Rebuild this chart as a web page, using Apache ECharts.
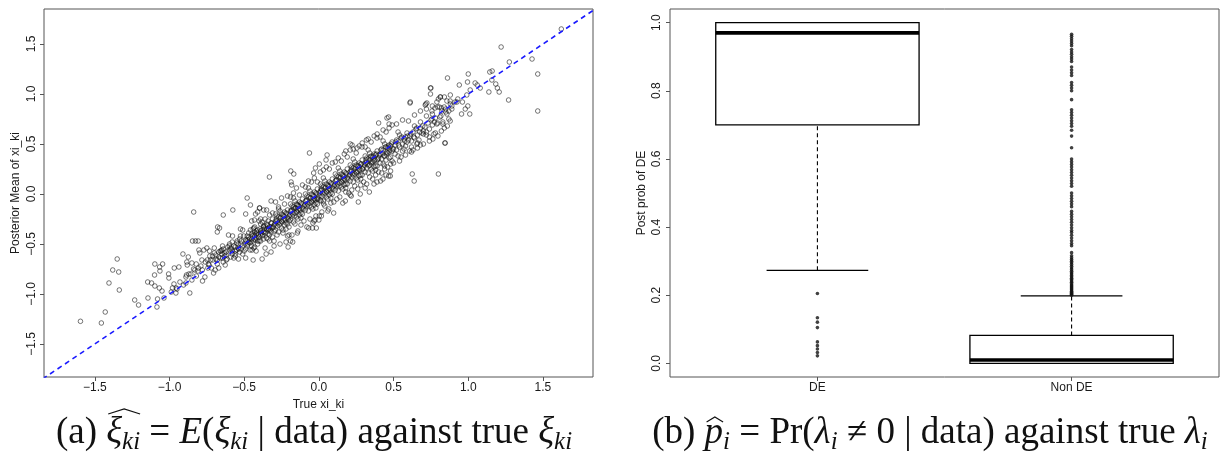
<!DOCTYPE html>
<html><head><meta charset="utf-8">
<script src="https://cdn.jsdelivr.net/npm/echarts@6/dist/echarts.min.js"></script>
<style>html,body{margin:0;padding:0;background:#fff}#c{width:1223px;height:460px}</style>
</head><body><div id="c"></div>
<script>
// ---------- data ----------
const xiTicks = [-1.5, -1, -0.5, 0, 0.5, 1, 1.5];
const probTicks = [0, 0.2, 0.4, 0.6, 0.8, 1.0];
const groups = ['DE', 'Non DE'];
// [lower whisker, Q1, median, Q3, upper whisker]
const boxStats = [
  [0.273, 0.700, 0.970, 1.000, 1.000],
  [0.000, 0.000, 0.010, 0.082, 0.198]
];
const deOutliers = [0.205, 0.134, 0.121, 0.105, 0.063, 0.052, 0.042, 0.032, 0.022];
const nonDeOutliers = [
  0.200,0.203,0.206,0.209,0.212,0.215,0.218,0.221,0.224,0.227,0.230,0.234,0.238,0.242,0.246,0.250,
  0.254,0.258,0.262,0.266,0.270,0.275,0.280,0.285,0.290,0.295,0.300,0.305,0.310,0.316,0.325,
  0.345,0.352,0.360,0.368,0.376,0.384,0.390,0.398,0.406,0.414,0.422,0.430,0.438,0.446,
  0.460,0.468,0.476,0.484,0.492,0.500,0.520,0.528,0.536,0.544,0.552,0.560,0.568,0.576,0.584,0.592,0.600,
  0.633,0.667,0.684,0.696,0.704,0.712,0.720,0.728,0.736,0.744,0.774,0.800,0.808,0.816,0.824,
  0.845,0.853,0.861,0.870,0.886,0.893,0.900,0.907,0.914,0.921,0.932,0.939,0.946,0.953,0.960,0.966
];
// [true xi_ki, posterior mean of xi_ki]
const xiPoints = [
[-1.596,-1.273],[-1.456,-1.29],[-1.43,-1.18],[-1.35,-0.65],[-1.38,-0.76],[-1.34,-0.78],[-1.405,-0.89],[-1.336,-0.96],
[-1.233,-1.06],[-1.207,-1.11],[-1.144,-1.04],[-1.084,-1.13],[-1.098,-0.70],[-1.066,-0.73],[-1.046,-0.70],[-1.064,-0.77],
[-1.10,-0.81],[-1.146,-0.88],[-1.12,-0.89],[-1.098,-0.92],[-1.068,-0.94],[-1.05,-0.97],[-1.08,-1.05],[-1.037,-1.04],
[-1.006,-0.80],[-1.004,-0.84],[-0.968,-0.74],[-0.937,-0.73],[-0.98,-0.94],[-0.955,-0.94],[-0.988,-0.98],[-0.957,-0.99],
[-0.906,-0.91],[-0.89,-0.89],[-0.864,-0.99],[-0.91,-0.60],[-0.874,-0.63],[-0.884,-0.68],[-0.881,-0.71],[-0.886,-0.81],
[-0.857,-0.80],[-0.85,-0.69],[-0.821,-0.70],[-0.839,-0.75],[-0.806,-0.74],[-0.81,-0.77],[-0.838,-0.18],[-0.846,-0.47],
[-0.826,-0.47],[-0.808,-0.47],[-0.803,-0.56],[-0.797,-0.59],[-0.77,-0.56],[-0.783,-0.66],[-0.79,-0.72],[-0.779,-0.87],
[-0.763,-0.83],[-0.747,-0.66],[-0.743,-0.74],[-0.734,-0.71],[-0.725,-0.66],[-0.75,-0.54],[-0.732,-0.57],[-0.70,-0.54],
[-0.70,-0.59],[-0.712,-0.62],[-0.69,-0.65],[-0.705,-0.79],[-0.694,-0.76],[-0.67,-0.74],[-0.64,-0.21],[-0.68,-0.38],
[-0.678,-0.33],[-0.665,-0.34],[-0.645,-0.52],[-0.654,-0.57],[-0.632,-0.59],[-0.645,-0.64],[-0.627,-0.71],[-0.614,-0.65],
[-0.605,-0.41],[-0.598,-0.50],[-0.576,-0.16],[-0.578,-0.42],[-0.60,-0.56],[-0.587,-0.54],[-0.56,-0.60],[-0.57,-0.64],
[-0.547,-0.47],[-0.525,-0.35],[-0.51,-0.36],[-0.525,-0.42],[-0.52,-0.50],[-0.536,-0.55],[-0.538,-0.65],[-0.503,-0.42],
[-0.49,-0.20],[-0.48,-0.04],[-0.458,-0.11],[-0.49,-0.64],[-0.50,-0.57],[-0.476,-0.50],[-0.447,-0.56],[-0.458,-0.36],
[-0.436,-0.34],[-0.418,-0.37],[-0.43,-0.42],[-0.41,-0.47],[-0.40,-0.27],[-0.396,-0.14],[-0.424,-0.20],
[-0.331,0.17],[-0.063,0.41],[-0.188,0.23],[-0.168,0.20],[-0.186,0.12],[-0.182,0.09],[-0.398,-0.14],[-0.369,-0.16],
[-0.32,-0.07],[-0.431,-0.26],[-0.068,-0.34],[-0.043,-0.34],[-0.017,-0.34],[-0.032,-0.27],[0.017,-0.22],[-0.144,-0.39],
[-0.175,-0.48],[-0.20,-0.41],[-0.30,-0.52],[-0.353,-0.60],[-0.436,-0.54],[0.264,-0.08],[0.338,0.02],[0.31,0.06],
[0.389,0.12],[0.429,0.15],[0.467,0.18],[0.625,0.20],[0.638,0.13],[0.80,0.20],[0.846,0.51],[0.747,1.00],
[0.814,0.97],[0.61,0.91],[0.40,0.71],[0.467,0.77],[0.21,0.50],[0.055,0.39],[0.18,0.43],[-0.012,-0.05],[0.015,-0.07],
[-0.206,-0.53],[-0.19,-0.47],[-0.21,-0.42],[0.48,0.23],[0.45,0.19],[0.413,0.13],[0.369,0.10],[0.277,0.00],
[0.217,-0.02],[0.177,-0.07],[0.099,-0.19],[0.066,-0.15],[0.032,-0.10],[0.003,-0.22],[-0.026,-0.26],[0.048,0.34],
[0.003,0.30],[-0.023,0.26],[-0.035,0.21],[0.222,0.49],[0.255,0.46],[0.289,0.47],[0.318,0.54],[0.389,0.56],
[0.456,0.76],[0.47,0.70],[0.656,0.50],[0.607,0.43],[0.716,0.90],[0.75,1.06],[0.612,0.92],
[-0.146,-0.11],[-0.168,-0.15],[0.21,-0.01],[0.478,0.18],
[1.623,1.65],[1.22,1.47],[1.427,1.35],[1.275,1.32],[1.465,1.20],[1.465,0.83],[1.27,0.94],[1.144,1.22],
[1.16,1.23],[1.158,1.14],[1.184,1.10],[1.195,1.06],[1.207,1.02],[1.138,1.02],[1.046,1.11],[1.06,1.09],
[1.08,1.06],[1.00,1.20],[0.995,1.12],[0.94,1.09],[1.013,1.04],[0.99,0.99],[0.861,1.16],[0.747,1.06],
[0.812,0.97],[0.857,0.93],[0.879,0.93],[0.912,0.92],[0.924,0.92],[0.961,0.92],[0.997,0.88],[0.955,0.80],
[1.01,0.80],[0.89,0.88],[0.723,0.91],[0.712,0.89],[0.79,0.92],[0.795,0.87],[0.777,0.86],[0.807,0.87],
[0.839,0.87],[0.757,0.83],[0.823,0.83],[0.857,0.80],[0.817,0.78],[0.879,0.73],[0.83,0.70],[0.794,0.71],
[0.774,0.72],[0.757,0.75],[0.797,0.58],[0.763,0.55],[0.843,0.51],[0.68,0.49],[0.70,0.60],[0.72,0.59],
[0.93,0.95],[0.98,0.85],[0.87,0.83],[0.85,0.85],[0.88,0.90],[0.82,0.86],
[-0.97,-0.90],[-0.93,-0.88],[-0.95,-0.95],[-0.89,-0.83],[-0.87,-0.80],[-0.85,-0.86],[-0.83,-0.76],[-0.82,-0.82],
[-0.78,-0.76],[-0.74,-0.70],[-0.72,-0.74],[-0.76,-0.68],[-0.71,-0.66],[-0.73,-0.62],
[-0.69,-0.61],[-0.68,-0.66],[-0.67,-0.58],[-0.66,-0.64],[-0.65,-0.60],[-0.64,-0.55],[-0.63,-0.62],[-0.62,-0.58],
[-0.61,-0.53],[-0.68,-0.70],[-0.66,-0.57],[-0.62,-0.66],[-0.64,-0.68],
[-0.59,-0.55],[-0.58,-0.60],[-0.57,-0.52],[-0.56,-0.57],[-0.55,-0.49],[-0.54,-0.54],[-0.53,-0.58],[-0.52,-0.47],
[-0.51,-0.52],[-0.58,-0.48],[-0.56,-0.62],[-0.53,-0.45],[-0.51,-0.60],[-0.59,-0.63],[-0.55,-0.56],
[-0.49,-0.46],[-0.48,-0.52],[-0.47,-0.43],[-0.46,-0.49],[-0.45,-0.40],[-0.44,-0.47],[-0.43,-0.38],[-0.42,-0.44],
[-0.41,-0.50],[-0.49,-0.55],[-0.47,-0.39],[-0.46,-0.56],[-0.45,-0.52],[-0.44,-0.35],[-0.43,-0.45],[-0.42,-0.40],
[-0.41,-0.36],[-0.48,-0.42],[-0.40,-0.43],[-0.43,-0.53],[-0.47,-0.48],[-0.45,-0.45],
[-0.39,-0.37],[-0.38,-0.42],[-0.37,-0.33],[-0.36,-0.39],[-0.35,-0.30],[-0.34,-0.36],[-0.33,-0.41],[-0.32,-0.29],
[-0.31,-0.34],[-0.39,-0.47],[-0.38,-0.28],[-0.37,-0.45],[-0.36,-0.32],[-0.35,-0.44],[-0.34,-0.27],[-0.33,-0.33],
[-0.32,-0.38],[-0.31,-0.25],[-0.30,-0.31],[-0.39,-0.30],[-0.37,-0.38],[-0.35,-0.35],[-0.33,-0.47],[-0.31,-0.43],
[-0.36,-0.25],[-0.34,-0.40],[-0.32,-0.33],[-0.38,-0.36],[-0.30,-0.37],[-0.39,-0.41],
[-0.29,-0.27],[-0.28,-0.32],[-0.27,-0.23],[-0.26,-0.29],[-0.25,-0.20],[-0.24,-0.26],[-0.23,-0.31],[-0.22,-0.19],
[-0.21,-0.24],[-0.29,-0.36],[-0.28,-0.22],[-0.27,-0.38],[-0.26,-0.17],[-0.25,-0.34],[-0.24,-0.21],[-0.23,-0.25],
[-0.22,-0.29],[-0.21,-0.16],[-0.20,-0.22],[-0.28,-0.27],[-0.26,-0.24],[-0.24,-0.36],[-0.22,-0.35],[-0.27,-0.13],
[-0.25,-0.27],[-0.23,-0.18],[-0.21,-0.30],[-0.29,-0.20],[-0.20,-0.27],
[-0.19,-0.17],[-0.18,-0.22],[-0.17,-0.13],[-0.16,-0.19],[-0.15,-0.10],[-0.14,-0.16],[-0.13,-0.21],[-0.12,-0.09],
[-0.11,-0.14],[-0.19,-0.26],[-0.18,-0.12],[-0.17,-0.28],[-0.16,-0.07],[-0.15,-0.23],[-0.14,-0.11],[-0.13,-0.15],
[-0.12,-0.19],[-0.11,-0.05],[-0.10,-0.12],[-0.18,-0.16],[-0.16,-0.14],[-0.14,-0.25],[-0.12,-0.24],[-0.17,-0.04],
[-0.15,-0.17],[-0.13,-0.08],[-0.11,-0.20],[-0.19,-0.10],
[-0.09,-0.07],[-0.08,-0.12],[-0.07,-0.03],[-0.06,-0.09],[-0.05,0.00],[-0.04,-0.06],[-0.03,-0.11],[-0.02,0.01],
[-0.01,-0.04],[-0.09,-0.16],[-0.08,-0.02],[-0.07,-0.17],[-0.06,0.03],[-0.05,-0.13],[-0.04,-0.01],[-0.03,-0.05],
[-0.02,-0.09],[-0.01,0.05],[0.00,-0.02],[-0.08,-0.06],[-0.06,-0.04],[-0.04,-0.15],[-0.02,-0.14],[-0.07,0.06],
[-0.05,-0.07],[-0.03,0.02],[-0.01,-0.10],[-0.09,0.00],
[0.01,0.03],[0.02,-0.02],[0.03,0.07],[0.04,0.01],[0.05,0.10],[0.06,0.04],[0.07,-0.01],[0.08,0.11],
[0.09,0.06],[0.01,-0.06],[0.02,0.08],[0.03,-0.07],[0.04,0.13],[0.05,-0.03],[0.06,0.09],[0.07,0.05],
[0.08,0.01],[0.09,0.15],[0.10,0.08],[0.02,0.04],[0.04,0.06],[0.06,-0.05],[0.08,-0.04],[0.03,0.16],
[0.05,0.03],[0.07,0.12],[0.09,0.00],[0.01,0.10],
[0.11,0.13],[0.12,0.08],[0.13,0.17],[0.14,0.11],[0.15,0.20],[0.16,0.14],[0.17,0.09],[0.18,0.21],
[0.19,0.16],[0.11,0.04],[0.12,0.18],[0.13,0.03],[0.14,0.23],[0.15,0.07],[0.16,0.19],[0.17,0.15],
[0.18,0.10],[0.19,0.25],[0.20,0.18],[0.12,0.14],[0.14,0.16],[0.16,0.05],[0.18,0.06],[0.13,0.26],
[0.15,0.13],[0.17,0.22],[0.19,0.10],[0.11,0.20],
[0.21,0.22],[0.22,0.17],[0.23,0.26],[0.24,0.20],[0.25,0.29],[0.26,0.23],[0.27,0.18],[0.28,0.30],
[0.29,0.25],[0.21,0.13],[0.22,0.27],[0.23,0.12],[0.24,0.32],[0.25,0.16],[0.26,0.28],[0.27,0.24],
[0.28,0.19],[0.29,0.34],[0.30,0.27],[0.22,0.23],[0.24,0.25],[0.26,0.14],[0.28,0.15],[0.23,0.35],
[0.25,0.22],[0.27,0.31],[0.29,0.19],[0.21,0.29],
[0.31,0.31],[0.32,0.26],[0.33,0.35],[0.34,0.29],[0.35,0.38],[0.36,0.32],[0.37,0.27],[0.38,0.39],
[0.39,0.34],[0.31,0.22],[0.32,0.36],[0.33,0.21],[0.34,0.41],[0.35,0.25],[0.36,0.37],[0.37,0.33],
[0.38,0.28],[0.39,0.43],[0.40,0.36],[0.32,0.32],[0.34,0.34],[0.36,0.23],[0.38,0.24],[0.33,0.44],
[0.35,0.31],[0.37,0.40],[0.39,0.28],[0.31,0.38],
[0.41,0.40],[0.42,0.35],[0.43,0.44],[0.44,0.38],[0.45,0.47],[0.46,0.41],[0.47,0.36],[0.48,0.48],
[0.49,0.43],[0.41,0.31],[0.42,0.45],[0.43,0.30],[0.44,0.50],[0.45,0.34],[0.46,0.46],[0.47,0.42],
[0.48,0.37],[0.49,0.52],[0.50,0.45],[0.43,0.53],[0.45,0.40],[0.47,0.49],[0.49,0.33],[0.44,0.28],
[0.51,0.49],[0.52,0.44],[0.53,0.53],[0.54,0.47],[0.55,0.56],[0.56,0.50],[0.57,0.45],[0.58,0.57],
[0.59,0.52],[0.51,0.40],[0.52,0.54],[0.53,0.38],[0.54,0.59],[0.56,0.43],[0.57,0.55],[0.58,0.48],
[0.59,0.61],[0.60,0.54],[0.55,0.37],[0.53,0.62],
[0.61,0.58],[0.62,0.53],[0.63,0.62],[0.64,0.56],[0.65,0.65],[0.66,0.59],[0.67,0.54],[0.68,0.66],
[0.69,0.61],[0.62,0.47],[0.64,0.68],[0.66,0.51],[0.68,0.72],[0.70,0.63],[0.63,0.44],
[0.71,0.67],[0.72,0.62],[0.73,0.71],[0.74,0.65],[0.75,0.74],[0.76,0.69],[0.77,0.60],[0.78,0.76],
[0.79,0.70],[0.72,0.78],[0.74,0.57],[0.76,0.80],
[0.81,0.77],[0.83,0.72],[0.85,0.82],[0.87,0.75],[0.89,0.85],[0.84,0.66],
[-0.45,-0.27],[-0.44,-0.66],[-0.43,-0.33],[-0.42,-0.57],[-0.41,-0.18],[-0.40,-0.47],[-0.39,-0.25],[-0.38,-0.65],
[-0.37,-0.32],[-0.36,-0.54],[-0.35,-0.16],[-0.34,-0.45],[-0.33,-0.21],[-0.32,-0.58],[-0.31,-0.19],[-0.30,-0.47],
[-0.29,-0.08],[-0.28,-0.41],[-0.27,-0.15],[-0.26,-0.50],[-0.25,-0.04],[-0.24,-0.39],[-0.23,-0.10],[-0.22,-0.48],
[-0.21,-0.02],[-0.20,-0.33],[-0.19,-0.03],[-0.18,-0.41],[-0.17,0.01],[-0.16,-0.30],[-0.15,0.06],[-0.14,-0.37],
[-0.13,-0.01],[-0.12,-0.31],[-0.11,0.09],[-0.10,-0.27],[-0.09,0.07],[-0.08,-0.33],[-0.07,0.13],[-0.06,-0.25],
[-0.05,0.12],[-0.04,-0.29],[-0.03,0.16],[-0.02,-0.22],[-0.01,0.12],[0.00,-0.26],[0.01,0.22],[0.02,-0.18],
[0.03,0.24],[0.04,-0.12],[0.05,0.27],[0.06,-0.17],[0.07,0.25],[0.08,-0.09],[0.09,0.31],[0.10,-0.08],
[0.11,0.32],[0.12,-0.05],[0.13,0.36],[0.14,-0.03],[0.15,0.33],[0.16,-0.09],[0.17,0.40],[0.18,0.02],
[0.19,0.37],[0.20,0.01],[0.21,0.44],[0.22,0.04],[0.23,0.45],[0.24,0.08],[0.25,0.41],[0.26,0.05],
[0.27,0.48],[0.28,0.09],[0.29,0.51],[0.30,0.12],[0.31,0.47],[0.32,0.10],[0.33,0.55],[0.34,0.17],
[0.35,0.52],[0.36,0.15],[0.37,0.58],[0.38,0.19],[0.39,0.60],[0.40,0.22],[0.41,0.57],[0.42,0.21],
[0.43,0.64],[0.44,0.25],[0.45,0.62],[0.46,0.27],[0.47,0.66],[0.48,0.30],[0.49,0.69],[0.50,0.31],
[0.52,0.70],[0.54,0.33],[0.56,0.74],[0.58,0.39],[0.60,0.73],[0.62,0.42],[0.64,0.79],[0.66,0.46],
[0.68,0.83],[0.70,0.50],[0.72,0.85],[0.74,0.53],[0.76,0.88],[0.78,0.61],[0.80,0.95],[0.82,0.63],
[0.84,0.97],[0.86,0.68],[0.88,0.99],
[-0.495,-0.50],[-0.485,-0.47],[-0.475,-0.46],[-0.465,-0.45],[-0.455,-0.48],[-0.445,-0.42],[-0.435,-0.41],[-0.425,-0.46],
[-0.415,-0.39],[-0.405,-0.41],[-0.395,-0.35],[-0.385,-0.39],[-0.375,-0.41],[-0.365,-0.35],[-0.355,-0.38],[-0.345,-0.31],
[-0.335,-0.35],[-0.325,-0.36],[-0.315,-0.29],[-0.305,-0.33],[-0.295,-0.30],[-0.285,-0.25],[-0.275,-0.29],[-0.265,-0.31],
[-0.255,-0.23],[-0.245,-0.28],[-0.235,-0.22],[-0.225,-0.26],[-0.215,-0.20],[-0.205,-0.25],[-0.195,-0.21],[-0.185,-0.17],
[-0.175,-0.20],[-0.165,-0.22],[-0.155,-0.14],[-0.145,-0.18],[-0.135,-0.12],[-0.125,-0.16],[-0.115,-0.10],[-0.105,-0.15],
[-0.095,-0.11],[-0.085,-0.07],[-0.075,-0.10],[-0.065,-0.12],[-0.055,-0.04],[-0.045,-0.08],[-0.035,-0.02],[-0.025,-0.06],
[-0.015,0.00],[-0.005,-0.05],[0.005,0.01],[0.015,0.05],[0.025,0.01],[0.035,-0.01],[0.045,0.07],[0.055,0.02],
[0.065,0.08],[0.075,0.04],[0.085,0.10],[0.095,0.05],[0.105,0.09],[0.115,0.14],[0.125,0.10],[0.135,0.08],
[0.145,0.17],[0.155,0.12],[0.165,0.18],[0.175,0.14],[0.185,0.20],[0.195,0.15],[0.205,0.19],[0.215,0.24],
[0.225,0.20],[0.235,0.18],[0.245,0.27],[0.255,0.22],[0.265,0.28],[0.275,0.24],[0.285,0.30],[0.295,0.25],
[0.305,0.29],[0.315,0.34],[0.325,0.30],[0.335,0.28],[0.345,0.37],[0.355,0.32],[0.365,0.38],[0.375,0.34],
[0.385,0.40],[0.395,0.35],[0.405,0.39],[0.415,0.44],[0.425,0.40],[0.435,0.38],[0.445,0.47],[0.455,0.42],
[0.465,0.48],[0.475,0.44],[0.485,0.50],[0.495,0.45],[0.515,0.52],[0.535,0.49],[0.555,0.57],[0.575,0.53],
[0.595,0.58],[0.615,0.60],[0.635,0.57],[0.655,0.66],[0.675,0.62],[0.695,0.68],[-0.52,-0.55],[-0.54,-0.50],
[-0.56,-0.53],[-0.58,-0.57],[-0.60,-0.52],[-0.62,-0.61],[-0.65,-0.56],[-0.67,-0.63]
];
// caption tokens: [text, style]  r = upright, m = italic math, s = italic subscript
const captionA = [['(a) ','r'],['ξ','m'],['ki','s'],[' = ','r'],['E','m'],['(','r'],['ξ','m'],['ki','s'],
  [' | data) against true ','r'],['ξ','m'],['ki','s']];
const captionB = [['(b) ','r'],['p','m'],['i','s'],[' = Pr(','r'],['λ','m'],['i','s'],
  [' ≠ 0 | data) against true ','r'],['λ','m'],['i','s']];

// ---------- chart ----------
const sans = '"Liberation Sans", Arial, Helvetica, sans-serif';
const serif = '"Liberation Serif", "Times New Roman", serif';
const fmtNum = v => (v < 0 ? '\u2212' : '') + Math.abs(v).toFixed(1);
const frame = '#555';
const lblStyle = { fontSize: 12, color: '#1a1a1a', fontFamily: sans };

function renderBox(params, api) {
  const x = api.value(0);
  const lo = api.value(1), q1 = api.value(2), med = api.value(3), q3 = api.value(4), hi = api.value(5);
  const c = (a, b) => api.coord([a, b]);
  const ln = (p1, p2, style) => ({ type: 'line', shape: { x1: p1[0], y1: p1[1], x2: p2[0], y2: p2[1] }, style });
  const solid = { stroke: '#000', lineWidth: 1.3 };
  const dashed = { stroke: '#000', lineWidth: 1.1, lineDash: [4, 3] };
  const tl = c(x - 0.4, q3), br = c(x + 0.4, q1);
  return {
    type: 'group',
    children: [
      ln(c(x, q3), c(x, hi), dashed),
      ln(c(x, lo), c(x, q1), dashed),
      ln(c(x - 0.2, hi), c(x + 0.2, hi), solid),
      ln(c(x - 0.2, lo), c(x + 0.2, lo), solid),
      { type: 'rect', shape: { x: tl[0], y: tl[1], width: br[0] - tl[0], height: br[1] - tl[1] },
        style: { fill: '#fff', stroke: '#000', lineWidth: 1.3 } },
      ln(c(x - 0.4, med), c(x + 0.4, med), { stroke: '#000', lineWidth: 3.6 })
    ]
  };
}

// caption layout (measured text, laid out token by token)
const CAP = 37, SUB = 25;
const mctx = document.createElement('canvas').getContext('2d');
function tokFont(kind) {
  const size = kind === 's' ? SUB : CAP;
  return (kind === 'r' ? 'normal' : 'italic') + ' normal ' + size + 'px ' + serif;
}
function captionGraphics(tokens, cx, cy, hatFrom, hatTo, hatLift) {
  const widths = tokens.map(t => { mctx.font = tokFont(t[1]); return mctx.measureText(t[0]).width; });
  const total = widths.reduce((a, b) => a + b, 0);
  let x = cx - total / 2;
  const els = [];
  let hx0 = 0, hx1 = 0;
  tokens.forEach((t, i) => {
    if (i === hatFrom) hx0 = x;
    const isSub = t[1] === 's';
    els.push({ type: 'text', x: x, y: cy + (isSub ? 9 : 0), silent: true,
      style: { text: t[0], font: tokFont(t[1]), fill: '#111', align: 'left', verticalAlign: 'middle' } });
    x += widths[i];
    if (i === hatTo) hx1 = x;
  });
  const hy = cy - hatLift;
  els.push({ type: 'polyline', silent: true,
    shape: { points: [[hx0 + 2, hy + 5], [(hx0 + hx1) / 2 + 1, hy], [hx1, hy + 5]] },
    style: { stroke: '#111', lineWidth: 1.2, fill: null } });
  return els;
}

const chart = echarts.init(document.getElementById('c'), null, { renderer: 'canvas' });
chart.setOption({
  animation: false,
  backgroundColor: '#fff',
  grid: [
    { left: 44, top: 9, width: 549, height: 368, show: true, borderColor: frame, borderWidth: 1, backgroundColor: 'transparent' },
    { left: 670, top: 9, width: 549, height: 368, show: true, borderColor: frame, borderWidth: 1, backgroundColor: 'transparent' }
  ],
  xAxis: [
    { type: 'value', gridIndex: 0, min: -1.84, max: 1.835, splitLine: { show: false }, axisLine: { show: false, onZero: false },
      axisTick: { show: true, length: 4, customValues: xiTicks, lineStyle: { color: frame } },
      axisLabel: Object.assign({ customValues: xiTicks, formatter: fmtNum, margin: 5 }, lblStyle),
      name: 'True xi_ki', nameLocation: 'middle', nameGap: 18, nameTextStyle: lblStyle },
    { type: 'value', gridIndex: 1, min: 0.42, max: 2.58, splitLine: { show: false }, axisLine: { show: false, onZero: false },
      axisTick: { show: true, length: 4, customValues: [1, 2], lineStyle: { color: frame } },
      axisLabel: Object.assign({ customValues: [1, 2], formatter: v => groups[Math.round(v) - 1], margin: 5 }, lblStyle) }
  ],
  yAxis: [
    { type: 'value', gridIndex: 0, min: -1.83, max: 1.85, splitLine: { show: false }, axisLine: { show: false, onZero: false },
      axisTick: { show: true, length: 4, customValues: xiTicks, lineStyle: { color: frame } },
      axisLabel: Object.assign({ customValues: xiTicks, formatter: fmtNum, rotate: 90, margin: 6 }, lblStyle),
      name: 'Posterior Mean of xi_ki', nameLocation: 'middle', nameGap: 22, nameTextStyle: lblStyle },
    { type: 'value', gridIndex: 1, min: -0.04, max: 1.04, splitLine: { show: false }, axisLine: { show: false, onZero: false },
      axisTick: { show: true, length: 4, customValues: probTicks, lineStyle: { color: frame } },
      axisLabel: Object.assign({ customValues: probTicks, formatter: v => v.toFixed(1), rotate: 90, margin: 7 }, lblStyle),
      name: 'Post prob of DE', nameLocation: 'middle', nameGap: 22, nameTextStyle: lblStyle }
  ],
  series: [
    { type: 'scatter', xAxisIndex: 0, yAxisIndex: 0, data: xiPoints, symbol: 'circle', symbolSize: 4.6,
      itemStyle: { color: 'rgba(255,255,255,0)', borderColor: 'rgba(20,20,20,0.8)', borderWidth: 0.9 }, z: 2 },
    { type: 'line', xAxisIndex: 0, yAxisIndex: 0, data: [[-2, -2], [2, 2]], showSymbol: false, clip: true,
      lineStyle: { color: '#1a1aff', width: 1.6, type: [5, 4] }, z: 3 },
    { type: 'custom', xAxisIndex: 1, yAxisIndex: 1, renderItem: renderBox,
      data: boxStats.map((s, i) => [i + 1].concat(s)), encode: { x: 0, y: [1, 2, 3, 4, 5] }, z: 2 },
    { type: 'scatter', xAxisIndex: 1, yAxisIndex: 1, symbolSize: 3.6, itemStyle: { color: '#111' },
      data: deOutliers.map(v => [1, v]).concat(nonDeOutliers.map(v => [2, v])), z: 3 }
  ],
  graphic: captionGraphics(captionA, 314, 433, 1, 2, 24).concat(captionGraphics(captionB, 930, 433, 1, 1, 16))
});
</script>
</body></html>
